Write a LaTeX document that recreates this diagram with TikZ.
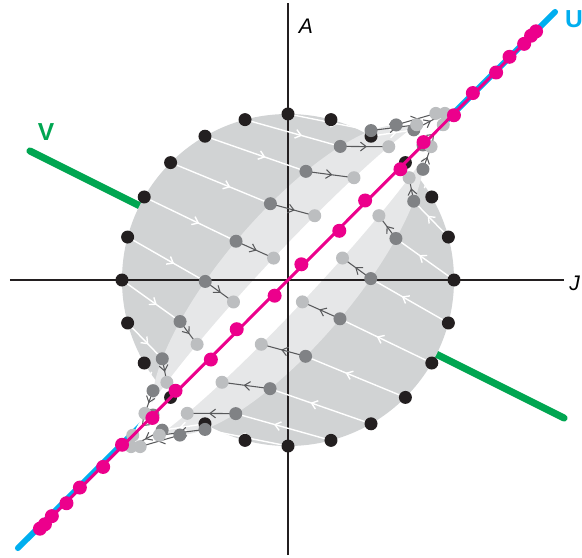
\documentclass[tikz,border=0pt]{standalone}
\usepackage{fontspec}
\setsansfont{Liberation Sans}
\usetikzlibrary{arrows.meta,decorations.markings}
\definecolor{diskgray}{HTML}{D1D3D4}
\definecolor{imagegray}{HTML}{E6E7E8}
\definecolor{dotblack}{HTML}{231F20}
\definecolor{dotdark}{HTML}{808285}
\definecolor{dotlight}{HTML}{BCBEC0}
\definecolor{arrowgray}{HTML}{58595B}
\definecolor{upink}{HTML}{EC008C}
\definecolor{ucyan}{HTML}{00AEEF}
\definecolor{vgreen}{HTML}{00A651}

\begin{document}
\begin{tikzpicture}[scale=0.02,
    axis/.style={dotblack,line width=0.6pt},
    axlabel/.style={font=\sffamily\itshape\fontsize{12}{14}\selectfont,inner sep=0pt},
    eiglabel/.style={font=\sffamily\bfseries\fontsize{14}{16}\selectfont,inner sep=0pt},
    flowmark/.style={postaction={decorate},decoration={markings,
        mark=at position #1 with {\arrow{Straight Barb[length=3.2pt,width=5pt]}}}},
    whitearrow/.style={white,line width=0.8pt,flowmark=0.6},
    grayarrow/.style={arrowgray,line width=0.6pt,flowmark=0.55}]
  \useasboundingbox (-288,-277) rectangle (294,280);
  % eigen-directions: U = (1,1), lambda = 1.15 ; V = (2,-1), lambda = 0.4
  \coordinate (U1) at (-270,-268);
  \coordinate (U2) at (267,268);
  \coordinate (V1) at (-258,129);
  \coordinate (V2) at (276,-138);
  \draw[ucyan,line width=3.4pt,line cap=round] (U1) -- (U2);
  \draw[vgreen,line width=4pt,line cap=round] (V1) -- (V2);
  % disk and its images under A and A^2
  \fill[diskgray] (0,0) circle (166);
  \fill[imagegray,cm={0.65,0.25,0.5,0.9,(0,0)}] (0,0) circle (166);
  \fill[white,cm={0.5475,0.3875,0.775,0.935,(0,0)}] (0,0) circle (166);
  % axes
  \draw[axis] (-278,0) coordinate (J1) -- (276,0) coordinate (J2);
  \draw[axis] (0,-275) coordinate (A1) -- (0,277) coordinate (A2);
  \node[axlabel,anchor=west] (Jlab) at (281,-3) {J};
  \node[axlabel] (Alab) at (18,254) {A};
  \node[eiglabel,ucyan] (Ulab) at (286,261) {U};
  \node[eiglabel,vgreen] (Vlab) at (-242,148) {V};
  % points x, Ax, A^2x, A^5x
  \foreach \k in {0,...,23}{
    \pgfmathsetmacro{\px}{166*cos(15*\k)}
    \pgfmathsetmacro{\py}{166*sin(15*\k)}
    \pgfmathsetmacro{\ua}{2.011357*(\px+2*\py)/3}
    \pgfmathsetmacro{\vb}{0.01024*(\px-\py)/3}
    \coordinate (p\k) at (\px,\py);
    \coordinate (q\k) at ({0.65*\px+0.5*\py},{0.25*\px+0.9*\py});
    \coordinate (r\k) at ({0.5475*\px+0.775*\py},{0.3875*\px+0.935*\py});
    \coordinate (m\k) at ({\ua+2*\vb},{\ua-\vb});
  }
  \foreach \k in {0,...,23} \draw[whitearrow] (p\k) -- (q\k);
  \foreach \k in {0,...,23} \draw[grayarrow] (q\k) -- (r\k);
  \foreach \k in {0,...,23} \fill[dotblack] (p\k) circle (6.5);
  \foreach \k in {0,...,23} \fill[dotdark] (q\k) circle (6.5);
  \foreach \k in {0,...,23} \fill[dotlight] (r\k) circle (6.5);
  \draw[upink,line width=1.7pt] (m16) -- (m4);
  \foreach \k in {0,...,23} \fill[upink] (m\k) circle (7);
\end{tikzpicture}
\end{document}
